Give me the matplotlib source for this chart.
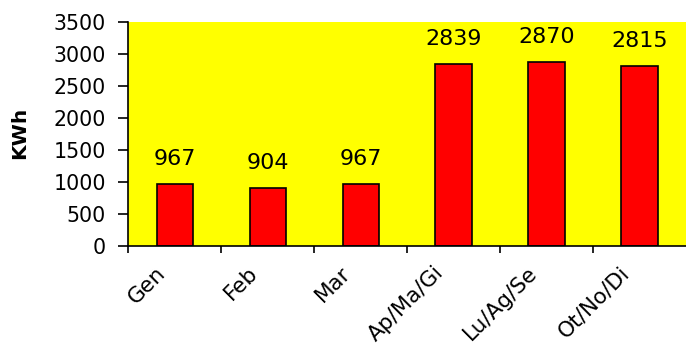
import matplotlib
matplotlib.use("Agg")
import matplotlib.pyplot as plt
import matplotlib.transforms as mtransforms
import numpy as np

categories = ["Gen", "Feb", "Mar", "Ap/Ma/Gi", "Lu/Ag/Se", "Ot/No/Di"]
values = [967, 904, 967, 2839, 2870, 2815]
yticks = [0, 500, 1000, 1500, 2000, 2500, 3000, 3500]

plt.rcParams["font.family"] = ["DejaVu Sans"]
FS = 14.8

fig = plt.figure(figsize=(6.86, 3.43), dpi=100)
ax = fig.add_axes([0.187, 0.283, 0.813, 0.653])
ax.set_facecolor("#FFFF00")

x = np.arange(len(categories))
ax.bar(x, values, width=0.39, color="#FF0000", edgecolor="black", linewidth=1.2)

# value labels above each bar
for xi, v in zip(x, values):
    ax.annotate(str(v), (xi, v), xytext=(0, 11), textcoords="offset points",
                ha="center", va="bottom", fontsize=16)

ax.set_xlim(-0.5, len(categories) - 0.5)
ax.set_ylim(0, 3500)
ax.set_yticks(yticks)
ax.set_yticklabels([str(t) for t in yticks], fontsize=FS)

ax.set_xticks(x)
ax.set_xticklabels(categories, fontsize=15.5, rotation=45, ha="right",
                   rotation_mode="anchor")
ax.tick_params(axis="x", which="major", length=0, pad=12)
shift = mtransforms.ScaledTranslation(-0.2, 0, fig.dpi_scale_trans)
for lbl in ax.get_xticklabels():
    lbl.set_transform(lbl.get_transform() + shift)
ax.set_xticks(np.arange(len(categories)) - 0.5, minor=True)
ax.tick_params(axis="x", which="minor", length=5, width=1.2, direction="out")
ax.tick_params(axis="y", length=7, width=1.2, direction="out", pad=9)

ax.spines["top"].set_visible(False)
ax.spines["right"].set_visible(False)
ax.spines["left"].set_linewidth(1.2)
ax.spines["bottom"].set_linewidth(1.2)

ax.set_ylabel("KWh", fontsize=14.5, fontweight="bold", va="center")
ax.yaxis.set_label_coords(-0.194, 0.505)

fig.savefig("out.png", dpi=100)
